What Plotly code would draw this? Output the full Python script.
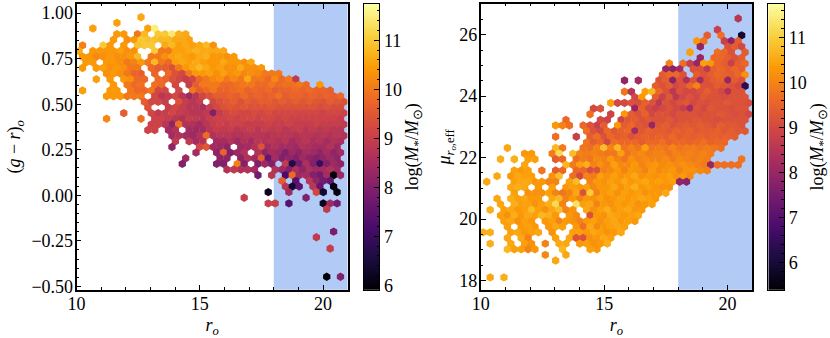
import numpy as np
import plotly.graph_objects as go

# hexbin lattice: row j, first half-column i, then log mass x10 per cell (0 = empty cell)
left_row = [46, 45, 44, 43, 42, 41, 40, 39, 38, 37, 36, 35, 34, 33, 32, 31, 30, 29, 28, 27, 26, 25, 24, 23, 22, 21, 20, 19, 18, 17, 16, 15, 14, 13, 12, 8, 7, 5, 0]
left_start = [18, 11, 4, 11, 10, 1, 0, 1, 2, 1, 8, 5, 10, 1, 8, 19, 20, 13, 8, 21, 20, 27, 28, 27, 34, 31, 30, 43, 52, 59, 60, 55, 48, 55, 72, 74, 69, 73, 72]
left_logm = [
    [106],
    [105],
    [105, 0, 0, 0, 0, 0, 0, 0, 105, 115],
    [104, 104, 0, 100, 108, 0, 110, 110, 114, 107, 106],
    [104, 0, 103, 104, 110, 109, 109, 108, 108, 106, 106, 105],
    [101, 0, 0, 110, 104, 0, 104, 0, 109, 110, 110, 0, 106, 108, 105, 106, 105, 106, 108, 103],
    [106, 0, 104, 104, 104, 104, 105, 103, 103, 0, 0, 110, 100, 100, 105, 105, 106, 107, 106, 106, 106, 106],
    [104, 104, 102, 103, 104, 103, 103, 104, 108, 0, 100, 100, 103, 105, 106, 105, 104, 106, 107, 104, 104, 103, 104],
    [104, 104, 0, 104, 104, 103, 100, 101, 104, 100, 108, 100, 98, 105, 106, 105, 106, 105, 104, 104, 106, 104, 104, 103, 106],
    [104, 0, 104, 105, 103, 104, 103, 100, 100, 0, 98, 96, 96, 94, 100, 104, 106, 108, 106, 104, 105, 103, 103, 106, 103, 103, 104],
    [103, 104, 103, 100, 97, 96, 0, 97, 0, 98, 94, 92, 100, 104, 104, 105, 103, 105, 103, 104, 102, 103, 102, 100, 100, 100],
    [105, 0, 104, 0, 104, 103, 98, 98, 0, 98, 97, 94, 92, 90, 92, 98, 100, 102, 103, 100, 102, 100, 106, 100, 100, 98, 102, 98, 100, 89],
    [104, 0, 100, 98, 99, 0, 99, 98, 0, 92, 0, 90, 96, 100, 100, 100, 98, 98, 99, 100, 100, 98, 98, 100, 98, 99, 99, 100, 98, 0, 104],
    [105, 0, 0, 0, 104, 104, 0, 100, 98, 98, 100, 92, 92, 0, 92, 0, 100, 96, 98, 100, 97, 97, 98, 99, 97, 98, 97, 98, 96, 97, 97, 98, 97, 98, 97, 97, 96],
    [104, 104, 104, 100, 100, 100, 0, 92, 88, 90, 92, 88, 84, 88, 92, 94, 96, 96, 97, 96, 98, 96, 97, 96, 97, 99, 96, 97, 97, 96, 97, 96, 97, 96, 98],
    [96, 92, 92, 90, 0, 94, 90, 88, 90, 0, 92, 94, 95, 96, 94, 96, 95, 96, 96, 95, 96, 95, 96, 95, 96, 95, 94, 96, 95, 94],
    [94, 0, 0, 90, 92, 90, 88, 88, 86, 90, 92, 94, 95, 94, 95, 94, 94, 94, 95, 94, 94, 94, 94, 94, 94, 93, 94, 93, 93],
    [96, 0, 0, 0, 92, 89, 90, 92, 90, 89, 88, 88, 89, 80, 90, 92, 93, 92, 92, 93, 92, 93, 92, 92, 92, 92, 92, 92, 92, 91, 92, 92, 91],
    [102, 0, 0, 0, 0, 99, 0, 91, 91, 90, 88, 87, 90, 89, 88, 90, 91, 91, 92, 91, 92, 92, 91, 92, 92, 91, 92, 91, 91, 91, 91, 91, 91, 91, 90],
    [91, 91, 88, 82, 99, 87, 87, 85, 88, 90, 91, 90, 91, 91, 90, 90, 90, 91, 90, 90, 91, 90, 90, 90, 91, 90, 90, 90, 89],
    [91, 91, 0, 85, 87, 0, 85, 84, 85, 88, 90, 89, 90, 88, 89, 90, 88, 90, 89, 90, 88, 89, 90, 88, 89, 88, 89, 88, 88],
    [85, 87, 85, 84, 87, 98, 87, 88, 88, 87, 87, 88, 88, 88, 87, 88, 88, 88, 87, 88, 88, 87, 88, 87, 88, 87],
    [89, 0, 89, 85, 87, 0, 85, 85, 87, 84, 87, 85, 88, 87, 88, 87, 88, 85, 87, 88, 86, 87, 85, 87, 86],
    [82, 0, 0, 0, 92, 95, 85, 84, 82, 0, 84, 85, 87, 94, 85, 87, 85, 85, 84, 87, 86, 85, 85, 87, 84],
    [85, 0, 0, 82, 97, 80, 84, 87, 0, 87, 82, 85, 84, 80, 84, 82, 85, 84, 82, 85, 82, 85],
    [84, 0, 0, 0, 0, 82, 82, 0, 82, 87, 84, 96, 76, 85, 80, 82, 80, 84, 82, 80, 82, 84, 82],
    [80, 0, 0, 0, 0, 80, 80, 0, 101, 80, 0, 80, 84, 80, 0, 89, 66, 78, 86, 80, 70, 80, 84, 82],
    [87, 89, 87, 87, 85, 0, 0, 87, 84, 80, 86, 82, 86, 84, 85, 87, 84],
    [78, 0, 88, 0, 72, 98, 84, 85, 80, 78, 85, 58, 84],
    [96, 0, 74, 0, 88, 82, 78, 76],
    [88, 64, 75, 0, 88, 76, 0, 60],
    [62, 0, 0, 84, 0, 0, 0, 92, 64, 0, 60],
    [90, 0, 0, 0, 0, 0, 0, 0, 0, 80],
    [90, 90, 0, 74, 0, 0, 0, 0, 62, 84, 78],
    [89],
    [79],
    [89],
    [90],
    [59, 0, 80],
]

right_row = [46, 44, 43, 42, 41, 40, 39, 38, 37, 36, 35, 34, 33, 32, 31, 30, 29, 28, 27, 26, 25, 24, 23, 22, 21, 20, 19, 18, 17, 16, 15, 14, 13, 12, 11, 10, 9, 8, 7, 6, 5, 4, 3, 0]
right_start = [74, 68, 65, 62, 63, 60, 63, 54, 53, 52, 41, 50, 41, 44, 37, 32, 31, 24, 21, 30, 21, 30, 7, 12, 5, 12, 9, 4, 1, 8, 9, 4, 5, 2, 5, 6, 7, 0, 7, 2, 7, 18, 21, 2]
right_logm = [
    [85],
    [88],
    [94, 0, 97, 0, 0, 59],
    [103, 98, 0, 0, 88, 78, 94],
    [79, 0, 0, 0, 92, 94, 90],
    [104, 0, 0, 0, 97, 96, 92, 0, 94],
    [80, 0, 96, 96, 94, 92, 94],
    [100, 0, 97, 88, 80, 104, 103, 96, 94, 88, 94, 96],
    [80, 78, 82, 0, 92, 92, 86, 95, 96, 94, 96, 94],
    [94, 96, 96, 92, 0, 94, 92, 94, 96, 95, 94, 96, 102],
    [79, 0, 82, 0, 0, 92, 94, 78, 92, 84, 92, 82, 92, 94, 95, 80, 94, 92],
    [94, 92, 94, 90, 92, 96, 100, 92, 92, 94, 93, 92, 90, 63],
    [98, 85, 0, 104, 107, 96, 92, 86, 92, 90, 90, 92, 94, 92, 90, 84, 92, 92],
    [90, 103, 0, 94, 88, 93, 86, 90, 92, 90, 93, 92, 92, 91, 92, 92, 92],
    [104, 90, 90, 92, 91, 95, 92, 86, 92, 90, 92, 93, 90, 92, 91, 92, 92, 93, 92, 92, 91],
    [90, 92, 0, 0, 0, 0, 80, 95, 90, 88, 90, 92, 90, 88, 82, 92, 90, 93, 92, 92, 91, 92, 92],
    [97, 0, 0, 89, 0, 103, 94, 92, 95, 90, 92, 92, 90, 92, 92, 92, 91, 92, 92, 93, 92, 91, 92, 90],
    [96, 0, 0, 0, 0, 90, 89, 0, 89, 93, 94, 92, 93, 92, 92, 93, 91, 92, 92, 93, 92, 92, 91, 92, 92, 92, 92],
    [103, 100, 97, 0, 96, 92, 88, 94, 0, 103, 94, 96, 93, 92, 80, 93, 94, 92, 93, 94, 93, 94, 93, 92, 94, 93, 93, 92],
    [97, 92, 90, 96, 93, 95, 96, 82, 93, 95, 94, 94, 93, 95, 94, 95, 93, 94, 94, 95, 93, 94, 93, 93],
    [97, 0, 0, 88, 0, 94, 97, 92, 96, 94, 95, 92, 94, 95, 94, 95, 94, 96, 94, 95, 94, 95, 94, 95, 94, 95, 94],
    [98, 94, 96, 90, 97, 96, 96, 96, 94, 96, 96, 97, 95, 96, 96, 95, 96, 97, 95, 96, 96],
    [105, 0, 0, 0, 0, 0, 0, 107, 99, 0, 0, 98, 97, 100, 108, 100, 107, 98, 100, 98, 104, 98, 99, 98, 100, 98, 99, 99, 98, 99, 98, 97],
    [103, 103, 0, 0, 99, 112, 0, 108, 100, 99, 100, 99, 98, 98, 104, 98, 100, 101, 99, 100, 100, 98, 100, 99, 100, 99, 100, 99],
    [106, 0, 106, 0, 104, 104, 0, 0, 94, 96, 0, 97, 99, 98, 101, 100, 103, 100, 98, 102, 100, 101, 100, 100, 101, 99, 101, 100, 99, 100, 99, 0, 0, 0, 0, 98],
    [105, 0, 0, 0, 0, 0, 107, 99, 104, 106, 100, 102, 100, 104, 101, 101, 103, 100, 102, 103, 101, 102, 101, 102, 101, 100, 99, 80, 97, 97, 97, 97],
    [104, 103, 104, 0, 98, 0, 94, 96, 0, 96, 96, 91, 92, 100, 101, 103, 100, 103, 102, 100, 103, 101, 102, 103, 100, 102, 102, 101, 100],
    [105, 0, 103, 105, 104, 104, 0, 0, 102, 108, 0, 97, 90, 100, 99, 104, 102, 104, 102, 103, 105, 102, 103, 102, 103, 104, 102, 103, 101],
    [105, 0, 0, 0, 104, 105, 105, 103, 103, 100, 100, 0, 104, 108, 0, 100, 103, 102, 104, 103, 105, 103, 104, 105, 103, 104, 103, 104, 79, 78],
    [105, 106, 105, 0, 103, 0, 104, 0, 103, 104, 103, 104, 101, 103, 103, 105, 102, 104, 106, 103, 104, 103, 102, 102],
    [104, 0, 102, 102, 102, 104, 100, 98, 100, 105, 92, 110, 100, 103, 104, 102, 104, 103, 104, 102, 103, 103, 105],
    [105, 0, 106, 104, 105, 103, 103, 0, 105, 107, 100, 103, 100, 103, 102, 104, 102, 103, 104, 103, 104, 105, 104, 103],
    [105, 0, 106, 104, 104, 102, 104, 106, 112, 100, 0, 113, 104, 105, 100, 103, 102, 104, 103, 104, 102, 103, 104],
    [106, 0, 104, 105, 103, 104, 108, 104, 102, 105, 108, 100, 102, 0, 105, 102, 104, 106, 103, 104, 105, 103, 103],
    [104, 102, 106, 103, 105, 104, 107, 106, 103, 0, 103, 101, 0, 92, 103, 102, 105, 104, 103, 104, 105],
    [104, 105, 102, 104, 103, 0, 103, 104, 100, 103, 102, 100, 103, 104, 102, 104, 105, 103, 104, 103],
    [104, 0, 103, 104, 103, 0, 103, 105, 104, 0, 103, 97, 105, 101, 103, 104, 105, 104],
    [106, 106, 0, 0, 104, 105, 103, 104, 105, 0, 102, 0, 0, 104, 104, 103, 105, 104, 102, 103, 105],
    [105, 0, 105, 100, 0, 0, 0, 104, 0, 105, 92, 92, 102, 103, 105, 104],
    [106, 0, 0, 105, 0, 104, 102, 0, 100, 0, 105, 105, 0, 103, 104, 102, 103, 106],
    [107, 104, 104, 100, 103, 0, 0, 0, 107, 0, 0, 0, 104, 103],
    [101, 0, 0, 105],
    [105],
    [105, 0, 106],
]

x_major = [10, 15, 20]
left_y_ticks = [-0.5, -0.25, 0.0, 0.25, 0.5, 0.75, 1.0]
right_y_ticks = [18, 20, 22, 24, 26]
cbar_ticks_left = [6, 7, 8, 9, 10, 11]
cbar_ticks_right = [6, 7, 8, 9, 10, 11]


def cells(rows, starts, values, y0, dy):
    xs, ys, zs = [], [], []
    for j, i0, vals in zip(rows, starts, values):
        for k, v in enumerate(vals):
            if v:
                xs.append(10.105 + 0.1395 * (i0 + 2 * k))
                ys.append(y0 + dy * j)
                zs.append(v / 10)
    return xs, ys, zs


W, H = 830, 338
FONT = "Liberation Serif"
BLUE = "#b1caf6"

fig = go.Figure()

lx, ly, lz = cells(left_row, left_start, left_logm, -0.447, 0.03097)
rx, ry, rz = cells(right_row, right_start, right_logm, 18.1, 0.1832)

fig.add_trace(go.Scatter(x=lx, y=ly, mode="markers", xaxis="x", yaxis="y",
                         marker=dict(symbol="hexagon", size=8.4, color=lz, coloraxis="coloraxis", line_width=0)))
fig.add_trace(go.Scatter(x=rx, y=ry, mode="markers", xaxis="x2", yaxis="y2",
                         marker=dict(symbol="hexagon", size=8.4, color=rz, coloraxis="coloraxis2", line_width=0)))

# colour bars drawn as own axes so they get minor ticks
ramp_l = np.linspace(5.91, 11.74, 256)
ramp_r = np.linspace(5.39, 11.75, 256)
fig.add_trace(go.Heatmap(z=[[v] for v in ramp_l], y=ramp_l, x=[0], xaxis="x3", yaxis="y3",
                         coloraxis="coloraxis", hoverinfo="skip"))
fig.add_trace(go.Heatmap(z=[[v] for v in ramp_r], y=ramp_r, x=[0], xaxis="x4", yaxis="y4",
                         coloraxis="coloraxis2", hoverinfo="skip"))

def frac_x(a, b):
    return [a / W, b / W]

y_dom = [1 - 289.7 / H, 1 - 4 / H]
tick = dict(color="black", size=18, family=FONT)
title_font = dict(size=18, family=FONT, color="black")
main = dict(showgrid=False, zeroline=False, showline=True, linecolor="black", linewidth=1.6, automargin=False,
            ticks="inside", ticklen=5, tickwidth=1, tickcolor="black", tickfont=tick)
minor_ticks = dict(ticks="inside", ticklen=2.5, tickwidth=1, tickcolor="black")
xtitle = dict(text="<i>r<sub>o</sub></i>", font=title_font, standoff=6)
lm = "log(<i>M</i><sub>*</sub>/<i>M</i><sub>⊙</sub>)"

fig.update_layout(
    template="none", width=W, height=H, margin=dict(l=0, r=0, t=0, b=0), paper_bgcolor="white", plot_bgcolor="white",
    showlegend=False, font=dict(family=FONT, color="black"),
    coloraxis=dict(colorscale="Inferno", cmin=5.91, cmax=11.74, showscale=False),
    coloraxis2=dict(colorscale="Inferno", cmin=5.39, cmax=11.75, showscale=False),
    xaxis=dict(main, domain=frac_x(76.5, 347.7), range=[10, 21], tickvals=x_major, mirror="ticks", ticklabelstandoff=-3,
               minor=dict(minor_ticks, dtick=1), title=xtitle),
    yaxis=dict(main, domain=y_dom, range=[-0.518, 1.05], tickvals=left_y_ticks, tickformat=".2f", mirror=True,
               ticklabelstandoff=-2, minor=dict(minor_ticks, dtick=0.05),
               title=dict(text="(<i>g</i> − <i>r</i>)<sub><i>o</i></sub>", font=title_font, standoff=6)),
    xaxis2=dict(main, domain=frac_x(480.7, 752.3), range=[10, 21], tickvals=x_major, mirror="ticks", anchor="y2",
                ticklabelstandoff=-3, minor=dict(minor_ticks, dtick=1), title=xtitle),
    yaxis2=dict(main, domain=y_dom, range=[17.7, 27], tickvals=right_y_ticks, mirror=True, anchor="x2",
                ticklabelstandoff=-2, minor=dict(minor_ticks, dtick=0.5),
                title=dict(text="<i>μ</i><sub><i>r<sub>o</sub></i>,eff</sub>", font=title_font, standoff=4)),
    xaxis3=dict(domain=frac_x(364, 379.3), anchor="y3", showticklabels=False, ticks="", range=[-0.5, 0.5], automargin=False,
                showgrid=False, zeroline=False, showline=True, mirror=True, linecolor="black", linewidth=1.2),
    yaxis3=dict(main, domain=y_dom, anchor="x3", side="right", range=[5.91, 11.74], tickvals=cbar_ticks_left, mirror=True,
                linewidth=1.2, minor=dict(minor_ticks, dtick=0.2),
                title=dict(text=lm, font=title_font, standoff=4)),
    xaxis4=dict(domain=frac_x(768.3, 784), anchor="y4", showticklabels=False, ticks="", range=[-0.5, 0.5], automargin=False,
                showgrid=False, zeroline=False, showline=True, mirror=True, linecolor="black", linewidth=1.2),
    yaxis4=dict(main, domain=y_dom, anchor="x4", side="right", range=[5.39, 11.75], tickvals=cbar_ticks_right, mirror=True,
                linewidth=1.2, minor=dict(minor_ticks, dtick=0.2),
                title=dict(text=lm, font=title_font, standoff=4)),
)

# shaded faint-magnitude band behind the hexes
for xref, yref in [("x", "y domain"), ("x2", "y2 domain")]:
    fig.add_shape(type="rect", x0=18, x1=21, y0=0, y1=1, xref=xref, yref=yref, layer="below",
                  fillcolor=BLUE, line_width=0)

fig.write_html("out.html", config=dict(displayModeBar=False),
               post_script="document.body.style.margin='0';")
